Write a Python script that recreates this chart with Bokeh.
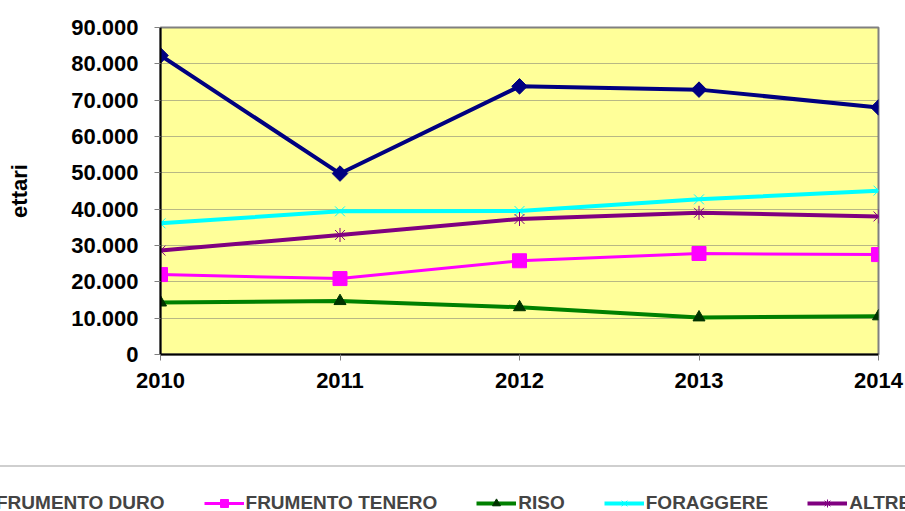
from bokeh.plotting import figure
from bokeh.layouts import column
from bokeh.models import Legend, LegendItem, FixedTicker, Range1d
from bokeh.embed import file_html
from bokeh.resources import INLINE
import numpy as np

years = [2010, 2011, 2012, 2013, 2014]
frumento_duro = [82300, 49800, 73800, 72900, 68000]
frumento_tenero = [22000, 20900, 25800, 27800, 27500]
riso = [14300, 14700, 13000, 10200, 10500]
foraggere = [36100, 39400, 39500, 42700, 45100]
altre = [28600, 32900, 37300, 39000, 38000]

y_ticks = [0, 10000, 20000, 30000, 40000, 50000, 60000, 70000, 80000, 90000]
y_tick_labels = ["0", "10.000", "20.000", "30.000", "40.000", "50.000",
                 "60.000", "70.000", "80.000", "90.000"]
series_names = ["FRUMENTO DURO", "FRUMENTO TENERO", "RISO", "FORAGGERE", "ALTRE"]

FONT = "Liberation Sans"

p = figure(width=905, height=456, output_backend="svg", toolbar_location=None,
           x_range=Range1d(2010, 2014), y_range=Range1d(0, 90000),
           min_border_left=160, min_border_right=27, min_border_top=27,
           min_border_bottom=102)
p.frame_align = False

p.border_fill_color = "white"
p.background_fill_color = "#FFFF99"
p.outline_line_color = "#808080"
p.outline_line_width = 2

p.xgrid.visible = False
p.ygrid.grid_line_color = "#707070"
p.ygrid.grid_line_dash = "1 1"
p.ygrid.grid_line_width = 1
p.ygrid.ticker = FixedTicker(ticks=y_ticks)

p.xaxis.ticker = FixedTicker(ticks=years)
p.yaxis.ticker = FixedTicker(ticks=y_ticks)
p.yaxis.major_label_overrides = {t: l for t, l in zip(y_ticks, y_tick_labels)}
p.xaxis.major_label_overrides = {y: str(y) for y in years}

for ax in (p.xaxis[0], p.yaxis[0]):
    ax.axis_line_color = "black"
    ax.axis_line_width = 2
    ax.major_tick_line_color = "#808080"
    ax.major_tick_in = 0
    ax.major_tick_out = 6
    ax.minor_tick_line_color = None
    ax.major_label_text_font = FONT
    ax.major_label_text_font_style = "bold"
    ax.major_label_text_font_size = "22px"
    ax.major_label_text_color = "black"

p.xaxis.major_label_standoff = 12
p.yaxis.major_label_standoff = 16

p.yaxis.axis_label = "ettari"
p.yaxis.axis_label_text_font = FONT
p.yaxis.axis_label_text_font_style = "bold"
p.yaxis.axis_label_text_font_size = "22px"
p.yaxis.axis_label_text_color = "black"
p.yaxis.axis_label_standoff = 36

specs = [
    (frumento_duro, "#000080", 4, dict(marker="square", angle=np.pi / 4, size=11,
                                       fill_color="#000080", line_color="#000080")),
    (frumento_tenero, "#FF00FF", 3, dict(marker="square", size=14,
                                         fill_color="#FF00FF", line_color="#FF00FF")),
    (riso, "#008000", 4, dict(marker="triangle", size=12,
                              fill_color="#003300", line_color="#003300")),
    (foraggere, "#00FFFF", 4, dict(marker="x", size=14, line_color="#00FFFF", line_width=1)),
    (altre, "#800080", 4, dict(marker="asterisk", size=14, line_color="#800080", line_width=1)),
]

# legend strip: a second figure whose frame covers the whole canvas
pl = figure(width=905, height=55, output_backend="svg", toolbar_location=None,
            x_range=Range1d(0, 1), y_range=Range1d(0, 1),
            x_axis_location=None, y_axis_location=None,
            min_border_left=0, min_border_right=0, min_border_top=0,
            min_border_bottom=0)
pl.frame_align = False
pl.grid.visible = False
pl.outline_line_color = None
pl.background_fill_color = "white"
pl.border_fill_color = "white"

items = []
for name, (vals, col, lw, mk) in zip(series_names, specs):
    p.line(years, vals, line_color=col, line_width=lw)
    p.scatter(years, vals, **mk)
    # same series in the legend strip (outside its visible range) for legend glyphs
    l2 = pl.line(years, vals, line_color=col, line_width=lw)
    s2 = pl.scatter(years, vals, **mk)
    items.append(LegendItem(label=name, renderers=[l2, s2]))

legend = Legend(items=items, orientation="horizontal", location=(-73, -30),
                padding=25, spacing=39, label_standoff=2, glyph_width=40,
                glyph_height=20, label_height=20, margin=0,
                label_text_font=FONT, label_text_font_style="bold",
                label_text_font_size="19px",
                border_line_color="#A0A0A0", border_line_width=2,
                background_fill_color="white", background_fill_alpha=1.0)
pl.add_layout(legend)

layout = column(p, pl, spacing=0)
open("out.html", "w").write(file_html(layout, INLINE))
